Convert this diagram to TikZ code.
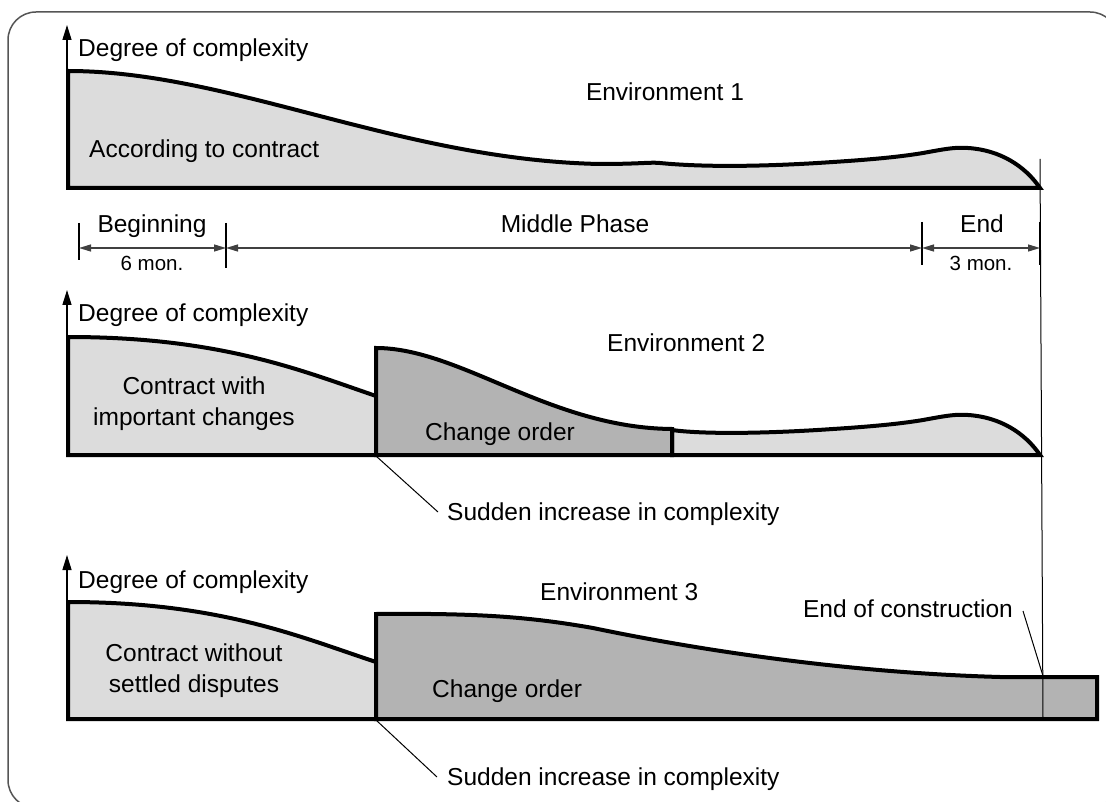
\documentclass[tikz,border=0pt]{standalone}
\usepackage{fontspec}
\setmainfont{Liberation Sans}
\usetikzlibrary{arrows.meta}
\definecolor{lightfill}{HTML}{DCDCDC}
\definecolor{darkfill}{HTML}{B3B3B3}
\definecolor{framecol}{HTML}{555555}
\begin{document}
\begin{tikzpicture}[x=1pt,y=-1pt,
  txt/.style={inner sep=0pt,font=\fontsize{24.5}{31}\selectfont},
  smalltxt/.style={inner sep=0pt,font=\fontsize{20.5}{24}\selectfont},
  curveline/.style={line width=4pt,line join=miter},
  axisline/.style={line width=1.4pt,-{Triangle[length=15pt,width=9pt]}},
  dimline/.style={line width=1.3pt,draw=black!75,{Triangle[length=12pt,width=7pt]}-{Triangle[length=12pt,width=7pt]}},
  tickline/.style={line width=1.3pt},
  thinline/.style={line width=1pt}]
\useasboundingbox (0,0) rectangle (1106,802);
\begin{scope}
\clip (0,0) rectangle (1106,802);
\draw[framecol,line width=1.5pt,rounded corners=28pt] (8,12) rectangle (1118,808);
\end{scope}

% ---------- Panel 1 ----------
\draw[curveline,fill=lightfill] (68,188) -- (68,71)
  .. controls (230,71) and (400,160) .. (600,164)
  .. controls (640,164) and (650,162) .. (660,163)
  .. controls (700,167) and (760,167) .. (833,162)
  .. controls (880,159) and (905,156) .. (923,153)
  .. controls (945,149) and (955,147) .. (968,148)
  .. controls (1000,150) and (1025,166) .. (1040,188) -- cycle;
\coordinate (ax1b) at (67,188);
\coordinate (ax1t) at (67,25);
\draw[axisline] (ax1b) -- (ax1t);
\node[txt,anchor=base west] (deg1) at (78,57) {Degree of complexity};
\node[txt,anchor=base] (env1) at (665,101) {Environment 1};
\node[txt,anchor=base west] (acc) at (89,158) {According to contract};

% ---------- Dimension lines ----------
\coordinate (t1a) at (79,223);  \coordinate (t1b) at (79,260);
\coordinate (t2a) at (226,223); \coordinate (t2b) at (226,268);
\coordinate (t3a) at (922,222); \coordinate (t3b) at (922,265);
\coordinate (t4a) at (1040,222); \coordinate (t4b) at (1040,265);
\draw[tickline] (t1a) -- (t1b);
\draw[tickline] (t2a) -- (t2b);
\draw[tickline] (t3a) -- (t3b);
\draw[tickline] (t4a) -- (t4b);
\coordinate (d1) at (79,248);
\coordinate (d2) at (226,248);
\coordinate (d3) at (922,248);
\coordinate (d4) at (1040,248);
\draw[dimline] (d1) -- (d2);
\draw[dimline] (d2) -- (d3);
\draw[dimline] (d3) -- (d4);
\node[txt,anchor=base] (beg) at (152,233) {Beginning};
\node[smalltxt,anchor=base] (six) at (152,271) {6 mon.};
\node[txt,anchor=base] (mid) at (575,233) {Middle Phase};
\node[txt,anchor=base] (endp) at (982,233) {End};
\node[smalltxt,anchor=base] (three) at (981,271) {3 mon.};

% ---------- Panel 2 ----------
\draw[curveline,fill=lightfill] (68,455) -- (68,337)
  .. controls (220,337) and (300,370) .. (376,396) -- (376,455) -- cycle;
\draw[curveline,fill=lightfill] (672,455) -- (672,430)
  .. controls (700,434) and (760,434) .. (833,429)
  .. controls (880,426) and (905,423) .. (923,420)
  .. controls (945,416) and (955,414) .. (968,415)
  .. controls (1000,417) and (1025,433) .. (1040,455) -- cycle;
\draw[curveline,fill=darkfill] (376,455) -- (376,348)
  .. controls (460,348) and (550,428) .. (672,429) -- (672,455) -- cycle;
\coordinate (ax2b) at (67,455);
\coordinate (ax2t) at (67,290);
\draw[axisline] (ax2b) -- (ax2t);
\node[txt,anchor=base west] (deg2) at (78,322) {Degree of complexity};
\node[txt,anchor=base west] (env2) at (607,352) {Environment 2};
\node[txt,anchor=base,align=center] (cwi) at (194,425) {Contract with\\important changes};
\node[txt,anchor=base] (co2) at (500,440) {Change order};
\coordinate (s2) at (376,456);
\node[txt,anchor=base west] (sud2) at (447,520) {Sudden increase in complexity};
\draw[thinline] (s2) -- (438,512);

% ---------- Panel 3 ----------
\draw[curveline,fill=lightfill] (68,719) -- (68,602)
  .. controls (220,602) and (300,637) .. (376,662) -- (376,719) -- cycle;
\draw[curveline,fill=darkfill] (376,719) -- (376,614)
  .. controls (480,613) and (530,617) .. (593,628)
  .. controls (660,642) and (820,672) .. (1000,677)
  -- (1097,677) -- (1097,719) -- cycle;
\coordinate (ax3b) at (67,719);
\coordinate (ax3t) at (67,555);
\draw[axisline] (ax3b) -- (ax3t);
\node[txt,anchor=base west] (deg3) at (78,588) {Degree of complexity};
\node[txt,anchor=base west] (env3) at (540,600) {Environment 3};
\node[txt,anchor=base,align=center] (cwo) at (194,692) {Contract without\\settled disputes};
\node[txt,anchor=base west] (co3) at (432,697) {Change order};
\coordinate (s3) at (376,720);
\node[txt,anchor=base west] (sud3) at (447,785) {Sudden increase in complexity};
\draw[thinline] (s3) -- (437,777);
\node[txt,anchor=base east] (eoc) at (1013,617) {End of construction};
\coordinate (eocp) at (1043,676);
\draw[thinline] (1023,611) -- (eocp);

% ---------- long vertical line ----------
\coordinate (vt) at (1040,159);
\coordinate (vb) at (1043,719);
\draw[thinline] (vt) -- (vb);
\end{tikzpicture}
\end{document}
